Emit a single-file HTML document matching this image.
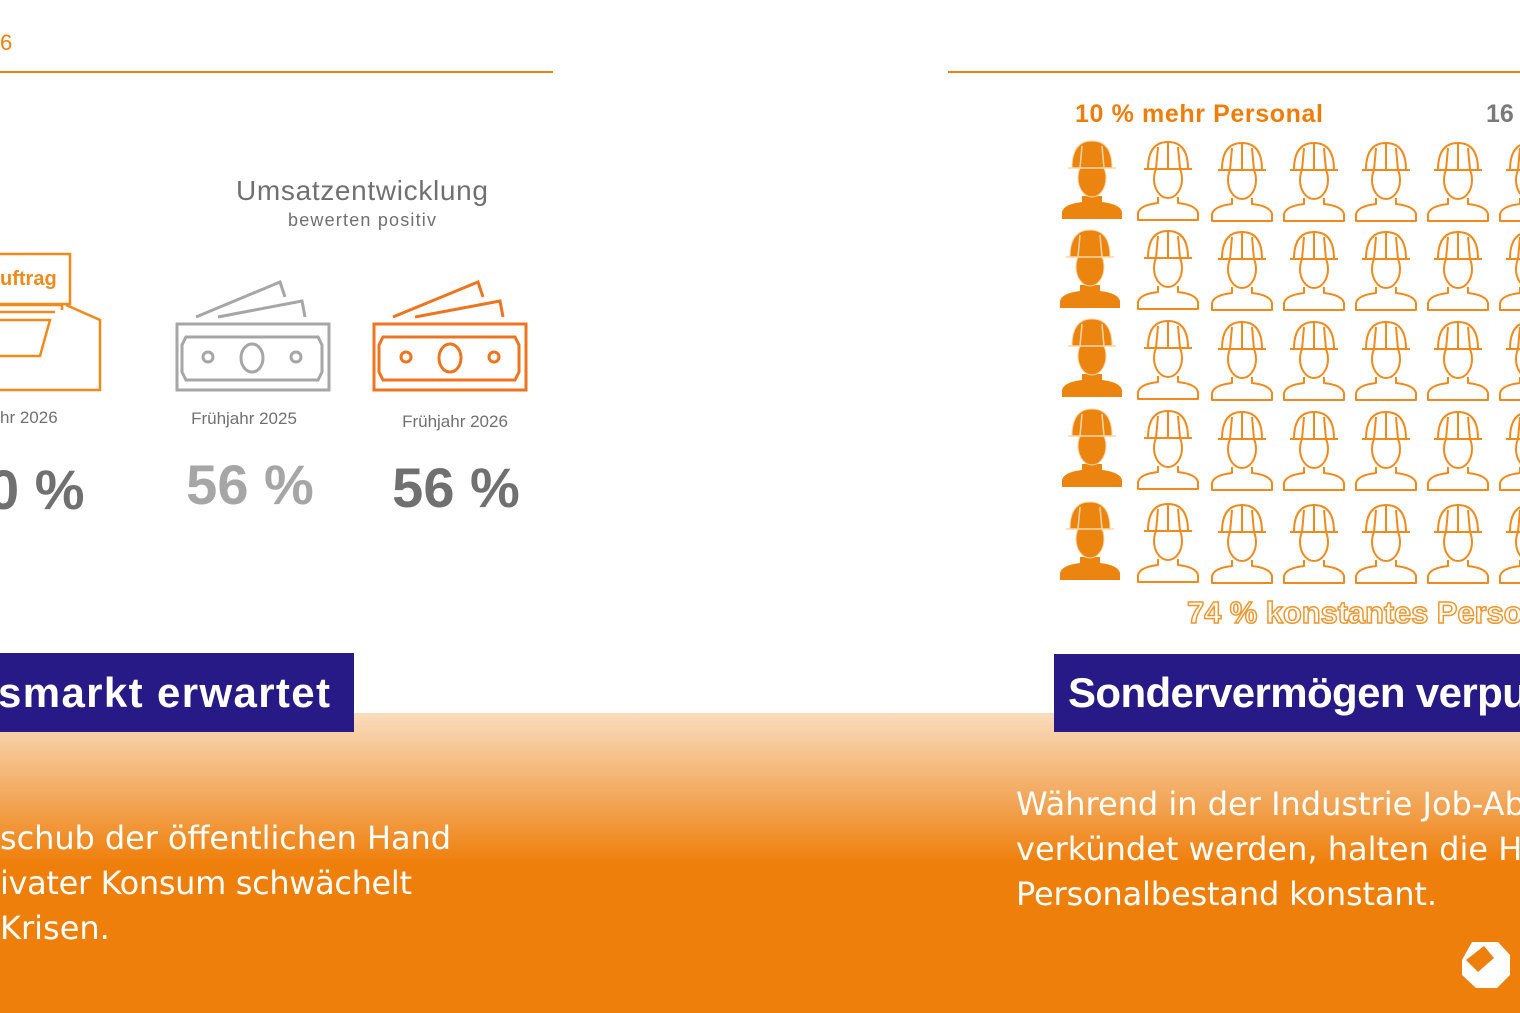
<!DOCTYPE html>
<html><head><meta charset="utf-8"><style>
html,body{margin:0;padding:0;width:1520px;height:1013px;overflow:hidden;background:#fff}
svg{display:block}
</style></head><body>
<svg width="1520" height="1013" viewBox="0 0 1520 1013" xmlns="http://www.w3.org/2000/svg">
<defs>
<linearGradient id="bg" x1="0" y1="0" x2="0" y2="1">
<stop offset="0" stop-color="#f9dcbd"/><stop offset="0.3" stop-color="#f2a555"/><stop offset="0.5" stop-color="#ef7f0b"/><stop offset="1" stop-color="#ef7f0b"/>
</linearGradient>
<g id="wo" fill="#fff" stroke="#f08a1c" stroke-width="2" stroke-linejoin="round">
<path d="M22 58 L22 64 Q4 66 2 74 L2 81 L62 81 L62 74 Q60 66 42 64 L42 58"/>
<ellipse cx="32" cy="40" rx="14" ry="19"/>
<path d="M12 30 Q12 3 32 3 Q52 3 52 30 Z"/>
<path d="M8 30 L56 30 M22 8 L20 30 M42 8 L44 30 M32 3 L32 30"/>
</g>
<g id="wf">
<path d="M22 58 L22 64 Q4 66 2 74 L2 81 L62 81 L62 74 Q60 66 42 64 L42 58 Z" fill="#ec8510"/>
<ellipse cx="32" cy="40" rx="14" ry="19" fill="#ec8510" stroke="#fbd6a8" stroke-width="1"/>
<path d="M12 30 Q12 3 32 3 Q52 3 52 30 Z" fill="#ec8510" stroke="#fbd6a8" stroke-width="1"/>
<path d="M8 30 L56 30 M22 8 L20 30 M42 8 L44 30" stroke="#fbd6a8" stroke-width="1.5" fill="none"/>
</g>
</defs>
<rect x="0" y="713" width="1520" height="300" fill="url(#bg)"/>
<text x="0" y="50" font-family="Liberation Sans, sans-serif" font-size="22" fill="#f07f0b">6</text>
<line x1="0" y1="72" x2="553" y2="72" stroke="#f07f0b" stroke-width="2"/>
<line x1="948" y1="72" x2="1520" y2="72" stroke="#f07f0b" stroke-width="2"/>
<text x="362" y="200" text-anchor="middle" font-family="Liberation Sans, sans-serif" font-size="28" fill="#707070" textLength="252">Umsatzentwicklung</text>
<text x="362" y="226" text-anchor="middle" font-family="Liberation Sans, sans-serif" font-size="18" fill="#707070" textLength="148">bewerten positiv</text>
<g fill="none" stroke="#f08a1c" stroke-width="2.5">
<rect x="-10" y="254" width="80" height="50" fill="#fff"/>
<path d="M-10 305 L62 305 L62 310 M-10 312 L55 312 M66 305 L100 320 L100 390 L-10 390 M-10 320 L50 320 L40 356 L-10 356"/>
</g>
<text x="0" y="285" font-family="Liberation Sans, sans-serif" font-size="20" font-weight="bold" fill="#f08a1c">uftrag</text>
<g fill="none" stroke="#a6a6a6" stroke-width="3">
<path d="M196 317 L280 282 L285 297 M218 317 L302 301 L305 317"/>
<rect x="177" y="324" width="152" height="66"/>
<path d="M186 337 L318 337 L322 345 L322 372 L318 380 L186 380 L182 372 L182 345 Z"/>
<circle cx="208" cy="357" r="5"/><circle cx="296" cy="357" r="5"/><ellipse cx="252" cy="358" rx="11" ry="14"/>
</g>
<g fill="none" stroke="#ef7420" stroke-width="3">
<path d="M393 317 L478 282 L483 297 M415 317 L500 301 L503 317"/>
<rect x="374" y="324" width="152" height="66"/>
<path d="M383 337 L515 337 L519 345 L519 372 L515 380 L383 380 L379 372 L379 345 Z"/>
<circle cx="406" cy="357" r="5"/><circle cx="494" cy="357" r="5"/><ellipse cx="450" cy="358" rx="11" ry="14"/>
</g>
<g font-family="Liberation Sans, sans-serif" fill="#707070" font-size="17">
<text x="0" y="423">hr 2026</text>
<text x="244" y="424" text-anchor="middle">Frühjahr 2025</text>
<text x="455" y="427" text-anchor="middle">Frühjahr 2026</text>
</g>
<g font-family="Liberation Sans, sans-serif" font-weight="bold" font-size="56">
<text x="-12" y="509" fill="#707070">0 %</text>
<text x="250" y="504" text-anchor="middle" fill="#a6a6a6">56 %</text>
<text x="456" y="507" text-anchor="middle" fill="#707070">56 %</text>
</g>
<text x="1075" y="122" font-family="Liberation Sans, sans-serif" font-weight="bold" font-size="25" fill="#ee7d0a" textLength="248">10 % mehr Personal</text>
<text x="1486" y="122" font-family="Liberation Sans, sans-serif" font-weight="bold" font-size="25" fill="#7a7a7a">16</text>
<use href="#wf" x="1060" y="138"/><use href="#wf" x="1058" y="227"/><use href="#wf" x="1060" y="316"/><use href="#wf" x="1060" y="406"/><use href="#wf" x="1058" y="499"/>
<g>
<use href="#wo" x="1136" y="139"/><use href="#wo" x="1210" y="140"/><use href="#wo" x="1282" y="140"/><use href="#wo" x="1354" y="140"/><use href="#wo" x="1426" y="140"/><use href="#wo" x="1498" y="140"/>
<use href="#wo" x="1136" y="228"/><use href="#wo" x="1210" y="229"/><use href="#wo" x="1282" y="229"/><use href="#wo" x="1354" y="229"/><use href="#wo" x="1426" y="229"/><use href="#wo" x="1498" y="229"/>
<use href="#wo" x="1136" y="318"/><use href="#wo" x="1210" y="319"/><use href="#wo" x="1282" y="319"/><use href="#wo" x="1354" y="319"/><use href="#wo" x="1426" y="319"/><use href="#wo" x="1498" y="319"/>
<use href="#wo" x="1136" y="408"/><use href="#wo" x="1210" y="409"/><use href="#wo" x="1282" y="409"/><use href="#wo" x="1354" y="409"/><use href="#wo" x="1426" y="409"/><use href="#wo" x="1498" y="409"/>
<use href="#wo" x="1136" y="501"/><use href="#wo" x="1210" y="502"/><use href="#wo" x="1282" y="502"/><use href="#wo" x="1354" y="502"/><use href="#wo" x="1426" y="502"/><use href="#wo" x="1498" y="502"/>
</g>
<text x="1187" y="623" font-family="Liberation Sans, sans-serif" font-weight="bold" font-size="31" fill="#fff" stroke="#f0962e" stroke-width="1.5" textLength="380">74 % konstantes Personal</text>
<rect x="0" y="653" width="354" height="79" fill="#271a86"/>
<text x="-2" y="707" font-family="Liberation Sans, sans-serif" font-weight="bold" font-size="42" fill="#fff" textLength="332">smarkt erwartet</text>
<rect x="1054" y="654" width="466" height="78" fill="#271a86"/>
<text x="1068" y="707" font-family="Liberation Sans, sans-serif" font-weight="bold" font-size="42" fill="#fff" textLength="500">Sondervermögen verpufft</text>
<g font-family="DejaVu Sans, Liberation Sans, sans-serif" font-size="32" fill="#fff">
<text x="0" y="849" textLength="451">schub der öffentlichen Hand</text>
<text x="0" y="894" textLength="412">ivater Konsum schwächelt</text>
<text x="0" y="939">Krisen.</text>
<text x="1016" y="815">Während in der Industrie Job-Abbau</text>
<text x="1016" y="860">verkündet werden, halten die Hand</text>
<text x="1016" y="905" textLength="421">Personalbestand konstant.</text>
</g>
<g fill="#fff">
<path d="M1472 942 L1498 942 L1510 955 L1510 975 L1497 988 L1476 988 L1462 975 L1462 960 Z"/>
<path d="M1466 960 L1484 946 L1494 958 L1478 972 Z" fill="#ef7f0b"/>
</g>
</svg>
</body></html>
